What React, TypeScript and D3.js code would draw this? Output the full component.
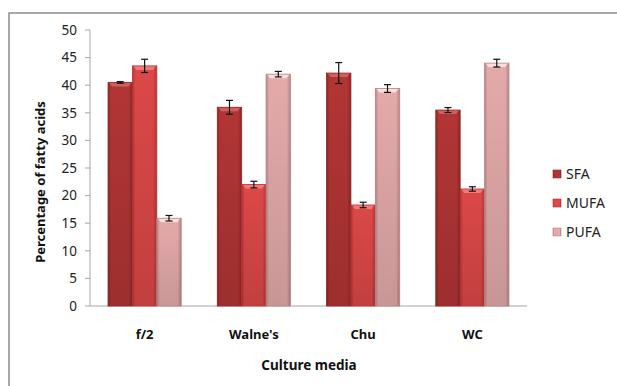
import React from 'react';
import * as d3 from 'd3';

const media = ['f/2', "Walne's", 'Chu', 'WC'];
const series = ['SFA', 'MUFA', 'PUFA'];
const sfa = [40.5, 36.0, 42.2, 35.5];
const mufa = [43.5, 22.0, 18.3, 21.2];
const pufa = [15.9, 42.0, 39.4, 44.0];
const sfaErr = [0.15, 1.25, 1.9, 0.45];
const mufaErr = [1.2, 0.6, 0.5, 0.4];
const pufaErr = [0.5, 0.5, 0.7, 0.7];
const yTicks = [0, 5, 10, 15, 20, 25, 30, 35, 40, 45, 50];

const values = [sfa, mufa, pufa];
const errors = [sfaErr, mufaErr, pufaErr];

// base colours: [edge, middle, top highlight]
const palette = [
  { edge: '#8e2626', mid: '#b23535', top: '#d06060' },
  { edge: '#b83232', mid: '#dc4848', top: '#f07a7a' },
  { edge: '#b88484', mid: '#e4aaaa', top: '#fbdede' },
];

const font = '"Noto Sans", "Open Sans", sans-serif';

const App: React.FC = () => {
  const width = 617;
  const height = 386;
  const plot = { left: 90, right: 527, top: 30, bottom: 306 };

  const x = d3.scaleBand<string>()
    .domain(media)
    .range([plot.left, plot.right])
    .paddingInner(0.33)
    .paddingOuter(0.165);

  const xs = d3.scaleBand<string>()
    .domain(series)
    .range([0, x.bandwidth()]);

  const y = d3.scaleLinear()
    .domain([0, 50])
    .range([plot.bottom, plot.top]);

  return (
    <svg width={width} height={height} style={{ position: 'absolute', left: 0, top: 0 }}>
      <defs>
        {palette.map((p, i) => (
          <linearGradient key={i} id={`bar${i}`} x1="0" x2="1" y1="0" y2="0">
            <stop offset="0" stopColor={p.edge} />
            <stop offset="0.12" stopColor={p.mid} />
            <stop offset="0.85" stopColor={p.mid} />
            <stop offset="1" stopColor={p.edge} />
          </linearGradient>
        ))}
        <linearGradient id="shade" x1="0" x2="0" y1="0" y2="1">
          <stop offset="0" stopColor="#000" stopOpacity="0" />
          <stop offset="1" stopColor="#000" stopOpacity="0.12" />
        </linearGradient>
      </defs>
      <rect x={0} y={0} width={width} height={height} fill="#fff" />
      {/* chart area border, runs off the picture at right and bottom */}
      <rect x={9} y={13} width={640} height={400} fill="none" stroke="#8c8c8c" strokeWidth={1.5} />

      {/* y axis */}
      <line x1={plot.left} x2={plot.left} y1={plot.top} y2={plot.bottom} stroke="#a6a6a6" />
      {yTicks.map(t => (
        <g key={t}>
          <line x1={plot.left - 5} x2={plot.left} y1={y(t)} y2={y(t)} stroke="#a6a6a6" />
          <text x={plot.left - 13} y={y(t)} dy="0.36em" textAnchor="end"
            fontFamily={font} fontSize={13.5} fill="#222">{t}</text>
        </g>
      ))}
      <line x1={plot.left} x2={plot.right} y1={plot.bottom} y2={plot.bottom} stroke="#a6a6a6" />

      {/* bars */}
      {media.map((m, ci) => (
        <g key={m} transform={`translate(${x(m)},0)`}>
          {series.map((s, si) => {
            const v = values[si][ci];
            const e = errors[si][ci];
            const bx = xs(s) as number;
            const bw = xs.bandwidth();
            const top = y(v);
            const cx = bx + bw / 2;
            return (
              <g key={s}>
                <rect x={bx} y={top} width={bw} height={plot.bottom - top} fill={`url(#bar${si})`} />
                <rect x={bx} y={top} width={bw} height={plot.bottom - top} fill="url(#shade)" />
                <path d={`M${bx + 1},${top} L${bx + bw - 1},${top} L${bx + bw - 4},${top + 4} L${bx + 4},${top + 4} Z`}
                  fill={palette[si].top} />
                <rect x={bx} y={top} width={bw} height={plot.bottom - top} fill="none"
                  stroke={palette[si].edge} strokeWidth={0.8} />
                <line x1={cx} x2={cx} y1={y(v + e)} y2={y(v - e)} stroke="#111" strokeWidth={1.2} />
                <line x1={cx - 3.5} x2={cx + 3.5} y1={y(v + e)} y2={y(v + e)} stroke="#111" strokeWidth={1.2} />
                <line x1={cx - 3.5} x2={cx + 3.5} y1={y(v - e)} y2={y(v - e)} stroke="#111" strokeWidth={1.2} />
              </g>
            );
          })}
          <text x={x.bandwidth() / 2} y={334} dy="0.36em" textAnchor="middle"
            fontFamily={font} fontSize={13} fontWeight="bold" fill="#111">{m}</text>
        </g>
      ))}

      {/* axis titles */}
      <text x={309} y={365} dy="0.36em" textAnchor="middle" fontFamily={font}
        fontSize={13.5} fontWeight="bold" fill="#111">Culture media</text>
      <text transform="translate(40,182) rotate(-90)" textAnchor="middle" dy="0.36em"
        fontFamily={font} fontSize={13} fontWeight="bold" fill="#111">Percentage of fatty acids</text>

      {/* legend */}
      {series.map((s, i) => {
        const ly = 174 + i * 29;
        return (
          <g key={s}>
            <rect x={553} y={ly - 4} width={8} height={8} fill={`url(#bar${i})`} stroke={palette[i].edge} strokeWidth={0.6} />
            <text x={566} y={ly} dy="0.36em" fontFamily={font} fontSize={14} fill="#222">{s}</text>
          </g>
        );
      })}
    </svg>
  );
};

export default App;
